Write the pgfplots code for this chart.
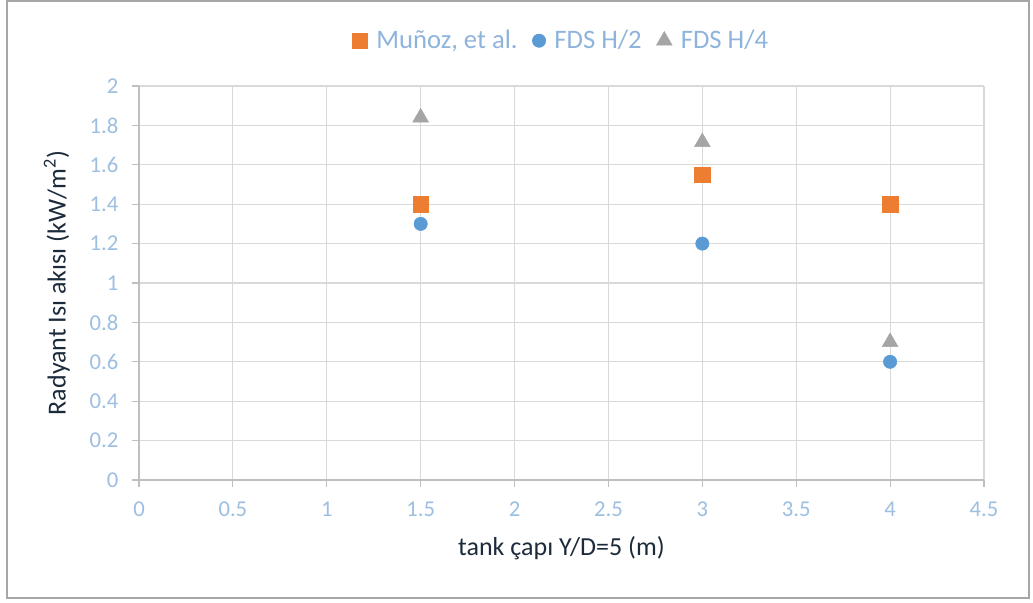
\documentclass[border=0pt]{standalone}
\usepackage{pgfplots}
\pgfplotsset{compat=1.18}
\usepackage{fontspec}
\setmainfont{Carlito}
\definecolor{tickblue}{HTML}{9DBFE2}
\definecolor{labelnavy}{HTML}{1C2B3C}
\definecolor{gridgray}{HTML}{D9D9D9}
\definecolor{axgray}{HTML}{BFBFBF}
\definecolor{morange}{HTML}{ED7D31}
\definecolor{mblue}{HTML}{5B9BD5}
\definecolor{mgray}{HTML}{A5A5A5}
\definecolor{legtext}{HTML}{8FB4DC}
\begin{document}
\begin{tikzpicture}[x=0.75pt,y=0.75pt]
\path[use as bounding box] (0,0) rectangle (1033,603);
\fill[white] (0,0) rectangle (1033,603);
\draw[gray!70,line width=1.2pt] (7,5) rectangle (1029,602);
\begin{axis}[
  at={(139*0.75pt,123*0.75pt)}, anchor=south west,
  scale only axis, width=845*0.75pt, height=394*0.75pt,
  xmin=0, xmax=4.5, ymin=0, ymax=2,
  xtick={0,0.5,...,4.5}, ytick={0,0.2,...,2},
  grid=major, grid style={gridgray, line width=0.9pt},
  axis line style={draw=none},
  axis x line*=bottom, axis y line*=left,
  tick style={draw=axgray, line width=0.9pt},
  tick align=outside, major tick length=5pt,
  every tick label/.append style={text=tickblue, font=\fontsize{17}{17}\selectfont},
  /pgf/number format/assume math mode=true,
  xticklabel style={yshift=-8pt},
  yticklabel style={xshift=-7pt},
  scaled ticks=false,
  yticklabel={\pgfmathprintnumber[fixed,precision=1]{\tick}},
  xticklabel={\pgfmathprintnumber[fixed,precision=1]{\tick}},
  xlabel={tank çapı Y/D=5 (m)},
  ylabel={Radyant Isı akısı (kW/m\textsuperscript{2})},
  label style={text=labelnavy, font=\fontsize{19.5}{19.5}\selectfont},
  xlabel style={yshift=-8pt},
  ylabel style={yshift=8pt},
  legend style={at={(0.5,1.115)}, anchor=center, draw=none, fill=none,
    legend columns=3, font=\fontsize{20}{20}\selectfont, text=legtext,
    /tikz/every odd column/.append style={column sep=4.5pt},
    /tikz/every even column/.append style={column sep=9pt}},
  legend cell align=left,
  clip=false,
]
\draw[axgray, line width=0.9pt] (axis cs:0,0) -- (axis cs:4.5,0);
\draw[axgray, line width=0.9pt] (axis cs:0,0) -- (axis cs:0,2);
\addplot[only marks, mark=square*, mark size=5.8pt, color=morange] coordinates {(1.5,1.4) (3,1.55) (4,1.4)};
\addlegendentry{Muñoz, et al.}
\addplot[only marks, mark=*, mark size=5pt, color=mblue] coordinates {(1.5,1.3) (3,1.2) (4,0.6)};
\addlegendentry{FDS H/2}
\addplot[only marks, mark=triangle*, mark size=6.8pt, color=mgray] coordinates {(1.5,1.84) (3,1.715) (4,0.7)};
\addlegendentry{FDS H/4}
\end{axis}
\end{tikzpicture}
\end{document}
